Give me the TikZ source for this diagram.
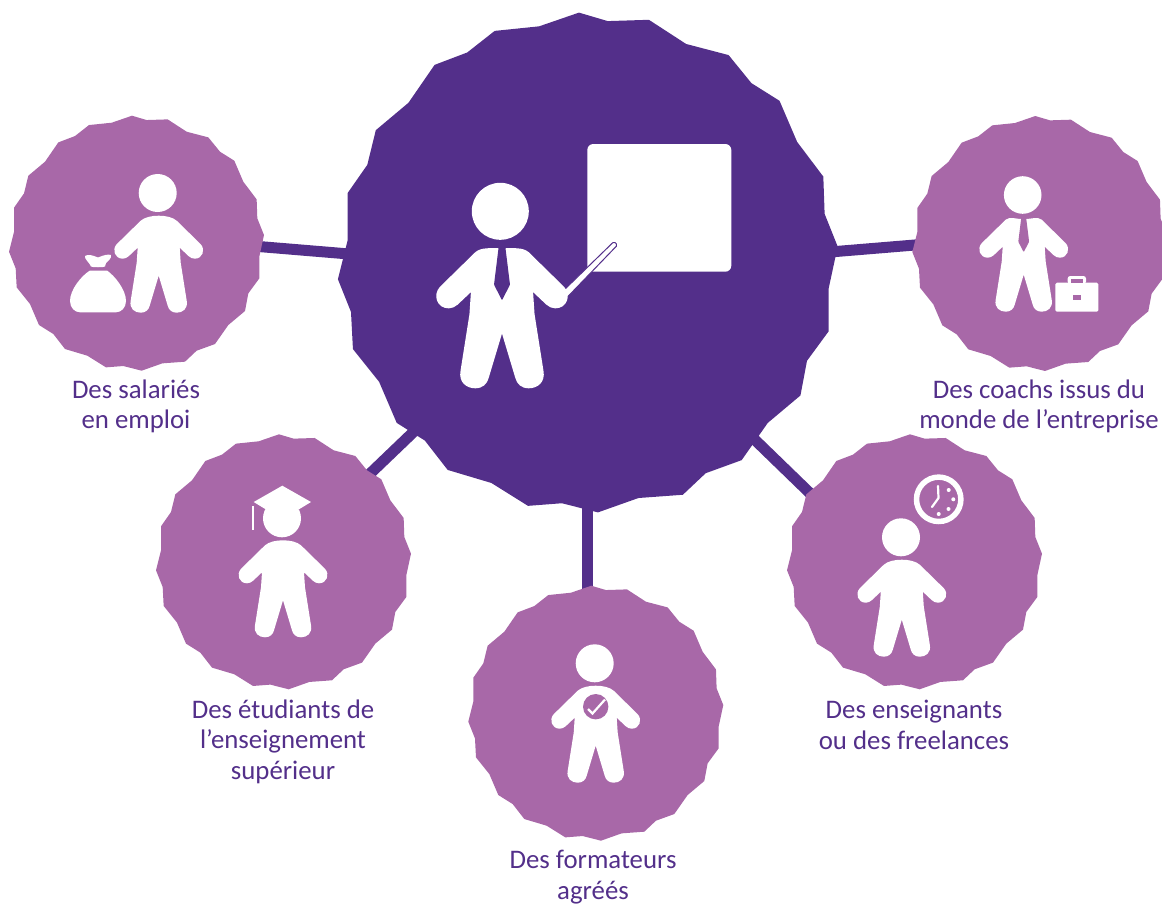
\documentclass[tikz,border=0pt]{standalone}
\usepackage{fontspec}
\setmainfont{Carlito}
\definecolor{dk}{RGB}{83,47,138}
\definecolor{lt}{RGB}{168,104,168}
\tikzset{
  link/.style={draw=dk,line width=11pt},
  lbl/.style={text=dk,align=center,inner sep=0pt,font=\fontsize{26.8}{30.5}\selectfont},
  wht/.style={fill=white,draw=none},
}
\newcommand{\Blob}[4]{%
 \fill[#4,shift={(#1,#2)},scale=#3] (-13.5,-382.5)--(30.5,-369.5)--(93.5,-371.5)--(150.5,-334.5)--(215.5,-317.5)--(250.5,-274.5)--(293.5,-247.5)--(320.5,-184.5)--(360.5,-131.5)--(362.5,-74.5)--(382.5,-24.5)--(368.5,40.5)--(368.5,105.5)--(335.5,150.5)--(325.5,203.5)--(275.5,245.5)--(235.5,302.5)--(180.5,322.5)--(145.5,355.5)--(77.5,360.5)--(15.5,382.5)--(-39.5,368.5)--(-91.5,372.5)--(-147.5,337.5)--(-214.5,317.5)--(-249.5,272.5)--(-292.5,245.5)--(-319.5,182.5)--(-359.5,132.5)--(-362.5,75.5)--(-382.5,25.5)--(-367.5,-34.5)--(-367.5,-106.5)--(-337.5,-149.5)--(-324.5,-202.5)--(-274.5,-244.5)--(-234.5,-302.5)--(-184.5,-321.5)--(-142.5,-354.5)--(-74.5,-361.5)--cycle;}
\newcommand{\Body}[4]{%
 \fill[wht,shift={(#1,#2)},scale=#3] (0,#4)
  .. controls (7,#4) and (14,24.5) .. (18,28)
  -- (42,51.5)
  .. controls (47,57) and (44,66) .. (36,66)
  .. controls (33.5,66) and (32,65) .. (30,63.5)
  -- (21,55)
  -- (22,70) -- (28,108)
  .. controls (29.5,116) and (24,120) .. (18,120)
  .. controls (13,120) and (10,117) .. (9,113)
  -- (0,83) -- (-9,113)
  .. controls (-10,117) and (-13,120) .. (-18,120)
  .. controls (-24,120) and (-29.5,116) .. (-28,108)
  -- (-22,70) -- (-21,55) -- (-30,63.5)
  .. controls (-32,65) and (-33.5,66) .. (-36,66)
  .. controls (-44,66) and (-47,57) .. (-42,51.5)
  -- (-18,28)
  .. controls (-14,24.5) and (-7,#4) .. (0,#4) -- cycle;}
\newcommand{\Tie}[4]{%
 \fill[#4,shift={(#1,#2)},scale=#3,rounded corners=0.8pt] (-1.7,20)--(1.7,20)--(5.4,50)--(0,60.5)--(-5.4,50)--cycle;}
\begin{document}
\begin{tikzpicture}[x=1pt,y=-1pt]
\useasboundingbox (0,0) rectangle (1162,905);
% anchors
\coordinate (lc) at (400,258.2);\coordinate (lb) at (220,243.3);
\coordinate (rc) at (790,255.3);\coordinate (rb) at (950,242.1);
\coordinate (bla) at (450,397);\coordinate (blb) at (330,512);
\coordinate (bra) at (720,406);\coordinate (brb) at (850,532);
\coordinate (ba) at (587.8,450);\coordinate (bb) at (587.8,650);
\path[link] (lc)--(lb);
\path[link] (rc)--(rb);
\path[link] (bla)--(blb);
\path[link] (bra)--(brb);
\path[link] (ba)--(bb);
% blobs
\Blob{587.8}{262.5}{0.6533}{dk}
\Blob{136.5}{243.2}{0.3333}{lt}
\Blob{1039.8}{243.5}{0.3333}{lt}
\Blob{283.5}{561.8}{0.3333}{lt}
\Blob{914.5}{561.8}{0.3333}{lt}
\Blob{595.8}{713.2}{0.3333}{lt}
% central figure
\fill[wht,rounded corners=6pt] (587.3,144) rectangle (731.3,271.7);
\filldraw[fill=white,draw=dk,line width=1pt,rounded corners=1.5pt] (562,292) -- (566,298.5) -- (617.5,245) -- (614,241.5) -- cycle;
\fill[wht] (500.3,211.3) circle[radius=28.5];
\Body{502}{210.7}{1.48}{25.4}
\Tie{502}{210.7}{1.48}{dk}
% salaries
\fill[wht] (157.7,193) circle[radius=19];
\Body{158.7}{192.7}{1}{23}
% bag
\fill[wht] (85,256) .. controls (88,254) and (92,255) .. (98,257.5) .. controls (104,255) and (108,254) .. (111,255) .. controls (112,258) and (108,261) .. (106,263) -- (105,266.5) .. controls (104,267.5) and (92,267.5) .. (91,266.5) .. controls (90,263) and (84,259) .. (85,256) -- cycle;
\fill[wht] (90,270.5) -- (107,270.5) .. controls (115,276) and (126,290) .. (126,301) .. controls (126,308) and (121,312.3) .. (116,312.3) -- (80,312.3) .. controls (75,312.3) and (70,308) .. (70,301) .. controls (70,290) and (81,276) .. (90,270.5) -- cycle;
% coach
\Body{1023.7}{191.7}{1}{27.5}
\Tie{1023.7}{191.7}{1}{lt}
\fill[wht] (1022.7,195) circle[radius=18.8];
\fill[wht,rounded corners=1.5pt] (1055.3,282.7) rectangle (1098.3,311.7);
\fill[wht,rounded corners=2.5pt] (1067.7,276) rectangle (1086,284);
\fill[lt] (1071,279.3) rectangle (1082.7,282.7);
\fill[lt] (1073,295) rectangle (1081,300);
% etudiant
\fill[wht] (282,518.3) circle[radius=19];
\Body{283}{517.3}{1}{23}
\fill[wht] (282.3,485.7) -- (311,502) -- (299,509.3) -- (282.3,502) -- (265.7,509.3) -- (253.7,502) -- cycle;
\fill[wht] (252.2,506) rectangle (254.4,529.5);
% enseignant
\fill[wht] (901,537.3) circle[radius=19];
\Body{901.8}{536.7}{1}{23}
\draw[white,line width=5.5pt] (938.7,499.3) circle[radius=22.2];
\draw[white,line width=2.2pt,line cap=round,line join=round] (938,486) -- (938.5,498) -- (932,507);
\foreach \px/\py in {948.7/490,953.3/499.3,948.5/509,938.7/514}{\fill[wht] (\px,\py) circle[radius=2];}
% formateur
\fill[wht] (594.7,663.3) circle[radius=19];
\Body{595.7}{662.7}{1}{23}
\fill[lt] (595.7,706.7) circle[radius=12.7];
\draw[white,line width=2.2pt] (588,709) -- (592.5,713.5) -- (605,699.5);
% labels
\node[lbl] (t1) at (136,406.5) {Des salariés\\en emploi};
\node[lbl] (t2) at (1039,406.5) {Des coachs issus du\\monde de l’entreprise};
\node[lbl] (t3) at (283,741.5) {Des étudiants de\\l’enseignement\\supérieur};
\node[lbl] (t4) at (914,725) {Des enseignants\\ou des freelances};
\node[lbl] (t5) at (593,877) {Des formateurs\\agréés};
\end{tikzpicture}
\end{document}
